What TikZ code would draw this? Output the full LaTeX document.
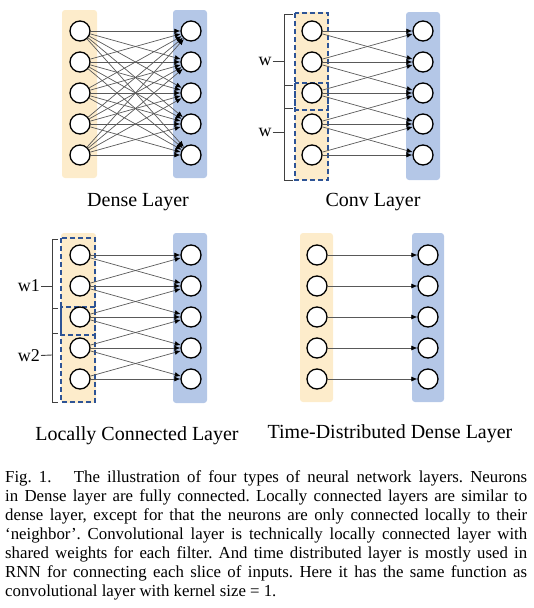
\documentclass[tikz,border=0pt]{standalone}
\usepackage{fontspec}
\setmainfont{Liberation Serif}
\usetikzlibrary{arrows.meta}

\definecolor{inbar}{RGB}{253,236,203}
\definecolor{outbar}{RGB}{180,199,231}
\definecolor{winbox}{RGB}{46,84,150}

\tikzset{
  neuron/.style={draw,circle,line width=1.3pt,fill=white,minimum size=20pt,inner sep=0pt},
  bar/.style={rounded corners=3pt},
  link/.style={-{Latex[length=6pt,width=5pt,color=black]},draw=black!65,line width=0.7pt},
  title/.style={font=\fontsize{20}{24}\selectfont},
  window/.style={draw=winbox,line width=1.2pt,dash pattern=on 5pt off 3pt},
  brace/.style={draw=black!75,line width=0.9pt},
  wlabel/.style={font=\fontsize{18}{22}\selectfont,inner sep=1pt}
}

\begin{document}
\begin{tikzpicture}[x=1pt,y=-1pt]
  \useasboundingbox (0,0) rectangle (534,608);

  % bars
  \fill[inbar,bar] (62,10) rectangle (97,178);
  \fill[outbar,bar] (173,10) rectangle (207,178);
  \fill[inbar,bar] (295,12) rectangle (329,180);
  \fill[outbar,bar] (406,12) rectangle (440,180);
  \fill[inbar,bar] (61,233) rectangle (96,403);
  \fill[outbar,bar] (173,233) rectangle (207,403);
  \fill[inbar,bar] (300,233) rectangle (333,402);
  \fill[outbar,bar] (412,233) rectangle (444,402);

  % windows
  \draw[window] (295,13) rectangle (328,110);
  \draw[window] (295,83) rectangle (328,180);
  \draw[window] (61,238) rectangle (95,335);
  \draw[window] (61,307) rectangle (95,402);

  % neurons
  \foreach \i/\y in {1/31,2/62,3/93,4/124,5/155}{
    \node[neuron] (DI\i) at (80,\y) {};
    \node[neuron] (DO\i) at (191,\y) {};
    \node[neuron] (CI\i) at (312,\y) {};
    \node[neuron] (CO\i) at (423,\y) {};
  }
  \foreach \i/\y in {1/255,2/286,3/317,4/348,5/379}{
    \node[neuron] (LI\i) at (80,\y) {};
    \node[neuron] (LO\i) at (191,\y) {};
    \node[neuron] (TI\i) at (317,\y) {};
    \node[neuron] (TO\i) at (428,\y) {};
  }

  % connections
  \foreach \i in {1,...,5}{
    \foreach \j in {1,...,5}{
      \path[link] (DI\i) edge (DO\j);
      \pgfmathtruncatemacro\gap{abs(\i-\j)}
      \ifnum\gap<2
        \path[link] (CI\i) edge (CO\j) (LI\i) edge (LO\j);
      \fi
    }
    \path[link] (TI\i) edge (TO\i);
  }

  % kernel brackets
  \draw[brace] (293,14) -| (284,108) -- (293,108);
  \draw[brace] (293,85) -| (284,180) -- (293,180);
  \coordinate (cw1) at (284,61);
  \coordinate (cw2) at (284,132);
  \node[wlabel] (w1) at (265,61) {w};
  \node[wlabel] (w2) at (265,132) {w};
  \draw[brace] (w1) -- (cw1);
  \draw[brace] (w2) -- (cw2);

  \draw[brace] (58,239) -| (52,333) -- (58,333);
  \draw[brace] (58,308) -| (52,402) -- (58,402);
  \coordinate (lw1) at (52,286);
  \coordinate (lw2) at (52,355);
  \node[wlabel,anchor=east] (l1) at (41,286) {w1};
  \node[wlabel,anchor=east] (l2) at (41,356) {w2};
  \draw[brace] (l1) -- (lw1);
  \draw[brace] (l2) -- (lw2);

  % titles
  \node[title] (tdense) at (138,202) {Dense Layer};
  \node[title] (tconv) at (373,202) {Conv Layer};
  \node[title] (tlocal) at (137,436) {Locally Connected Layer};
  \node[title] (ttime) at (390,434) {Time-Distributed Dense Layer};

  % caption
  \node[anchor=north west,text width=522pt,align=justify,inner sep=0pt,
        font=\fontsize{16.8}{19}\selectfont] (caption) at (5,470) {\hyphenpenalty=10000\frenchspacing
    Fig. 1.\hspace{0.9em} The illustration of four types of neural network layers. Neurons\linebreak
    in Dense layer are fully connected. Locally connected layers are similar to\linebreak
    dense layer, except for that the neurons are only connected locally to their\linebreak
    `neighbor'. Convolutional layer is technically locally connected layer with\linebreak
    shared weights for each filter. And time distributed layer is mostly used in\linebreak
    RNN for connecting each slice of inputs. Here it has the same function as\linebreak
    convolutional layer with kernel size = 1.};
\end{tikzpicture}
\end{document}
